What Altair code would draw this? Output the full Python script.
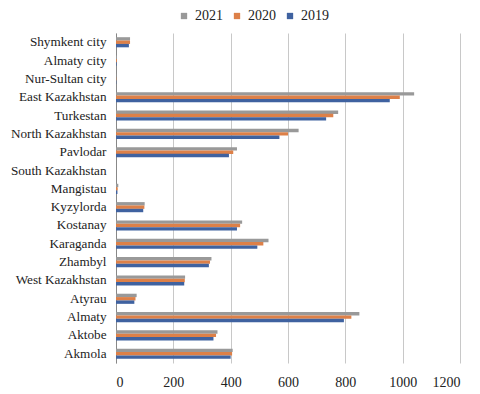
import altair as alt
import pandas as pd

regions = ["Shymkent city", "Almaty city", "Nur-Sultan city", "East Kazakhstan", "Turkestan",
           "North Kazakhstan", "Pavlodar", "South Kazakhstan", "Mangistau", "Kyzylorda",
           "Kostanay", "Karaganda", "Zhambyl", "West Kazakhstan", "Atyrau", "Almaty",
           "Aktobe", "Akmola"]
v2021 = [49, 3, 1, 1040, 775, 637, 422, 0, 8, 100, 440, 532, 333, 241, 72, 849, 354, 407]
v2020 = [49, 3, 1, 990, 758, 600, 409, 0, 6, 99, 433, 514, 328, 240, 68, 821, 349, 405]
v2019 = [45, 2, 1, 955, 733, 570, 394, 0, 5, 95, 422, 493, 324, 238, 64, 795, 340, 400]
years = ["2021", "2020", "2019"]
colors = ["#999999", "#DD8048", "#3F62A0"]

rows = []
for i, r in enumerate(regions):
    for y, vals in zip(years, [v2021, v2020, v2019]):
        rows.append({"region": r, "year": y, "value": vals[i]})
df = pd.DataFrame(rows)

font = "Liberation Serif, Times New Roman, serif"

chart = alt.Chart(df).mark_bar(size=3.4).encode(
    y=alt.Y("region:N", sort=regions, title=None,
            scale=alt.Scale(paddingInner=0.45, paddingOuter=0.23),
            axis=alt.Axis(labelFont=font, labelFontSize=13.2, labelColor="#222222",
                          ticks=False, domain=True, domainColor="#888888",
                          labelPadding=10, grid=False, labelLimit=200)),
    yOffset=alt.YOffset("year:N", sort=years),
    x=alt.X("value:Q", title=None,
            scale=alt.Scale(domain=[0, 1200]),
            axis=alt.Axis(values=[0, 200, 400, 600, 800, 1000, 1200], format="d",
                          labelFont=font, labelFontSize=14, labelColor="#222222",
                          ticks=False, domain=False, grid=True, gridColor="#C8C8C8",
                          labelPadding=12)),
    color=alt.Color("year:N", sort=years,
                    scale=alt.Scale(domain=years, range=colors),
                    legend=alt.Legend(title=None, orient="none", direction="horizontal",
                                      legendX=61, legendY=-24, symbolType="square",
                                      symbolSize=40, labelFont=font, labelFontSize=14,
                                      labelColor="#222222", columnPadding=7,
                                      symbolStrokeWidth=0)),
).properties(
    width=344, height=330,
    autosize=alt.AutoSizeParams(type="none"),
    padding={"left": 108, "top": 25, "right": 12, "bottom": 31},
).configure_view(stroke=None)

chart.save("out.html", embed_options={"renderer": "svg", "actions": False})
